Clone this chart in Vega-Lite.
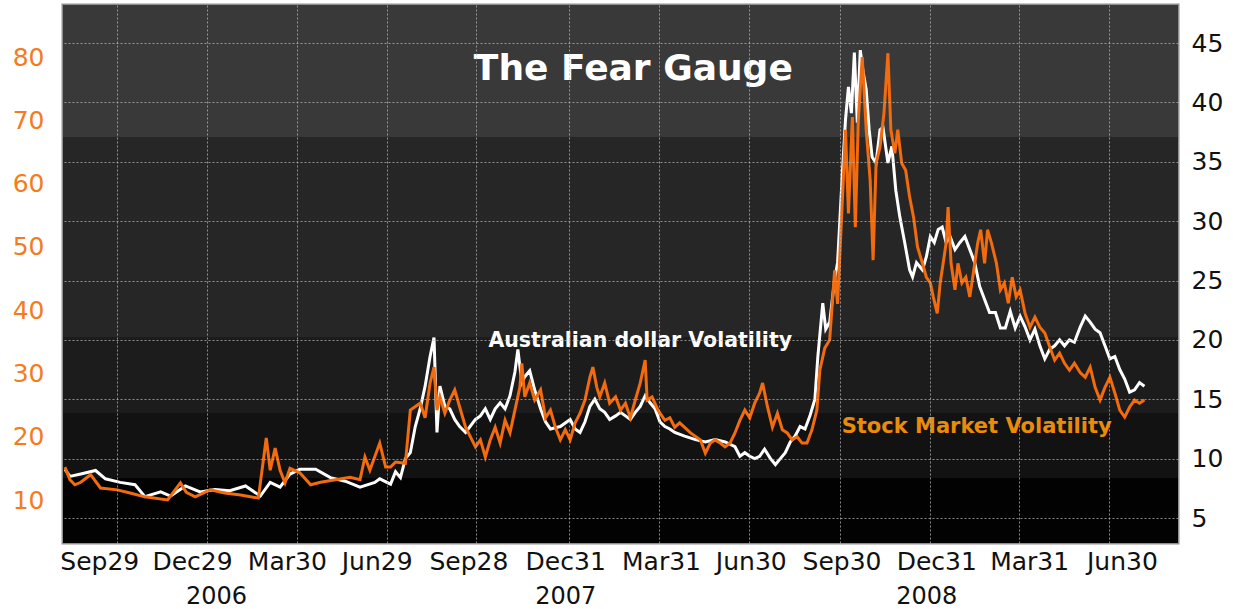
{
  "$schema": "https://vega.github.io/schema/vega-lite/v6.json",
  "width": 1115,
  "height": 538,
  "autosize": {"type": "none"},
  "padding": {"left": 63, "top": 5, "right": 59, "bottom": 66},
  "background": "white",
  "config": {
    "view": {"stroke": "#8f8f8f", "strokeWidth": 3},
    "axis": {"labelFont": "DejaVu Sans", "domain": false, "ticks": false, "title": null}
  },
  "datasets": {
    "bands": [
      {"lo": 37.08, "hi": 48.2, "band": "b1"},
      {"lo": 20.24, "hi": 37.08, "band": "b2"},
      {"lo": 13.84, "hi": 20.24, "band": "b3"},
      {"lo": 8.37, "hi": 13.84, "band": "b4"},
      {"lo": 2.895, "hi": 8.37, "band": "b5"}
    ],
    "aud": [
      {"date": "2006-08-07", "v": 9.1}, {"date": "2006-08-12", "v": 8.5}, {"date": "2006-08-23", "v": 8.7},
      {"date": "2006-09-07", "v": 9.0}, {"date": "2006-09-17", "v": 8.3}, {"date": "2006-10-02", "v": 8.0},
      {"date": "2006-10-17", "v": 7.8}, {"date": "2006-10-27", "v": 6.8}, {"date": "2006-11-12", "v": 7.2},
      {"date": "2006-11-22", "v": 6.85}, {"date": "2006-12-07", "v": 7.7}, {"date": "2006-12-22", "v": 7.2},
      {"date": "2007-01-06", "v": 7.4}, {"date": "2007-01-21", "v": 7.3}, {"date": "2007-02-06", "v": 7.7},
      {"date": "2007-02-21", "v": 6.85}, {"date": "2007-03-03", "v": 8.0}, {"date": "2007-03-13", "v": 7.6},
      {"date": "2007-03-23", "v": 8.7}, {"date": "2007-04-02", "v": 9.1}, {"date": "2007-04-18", "v": 9.1},
      {"date": "2007-05-03", "v": 8.4}, {"date": "2007-05-18", "v": 8.1}, {"date": "2007-06-02", "v": 7.6},
      {"date": "2007-06-17", "v": 8.0}, {"date": "2007-06-22", "v": 8.3}, {"date": "2007-07-03", "v": 7.85},
      {"date": "2007-07-08", "v": 8.9}, {"date": "2007-07-13", "v": 8.4}, {"date": "2007-07-18", "v": 10.0},
      {"date": "2007-07-23", "v": 10.5}, {"date": "2007-07-28", "v": 12.7}, {"date": "2007-08-02", "v": 14.2},
      {"date": "2007-08-07", "v": 16.1}, {"date": "2007-08-12", "v": 18.6}, {"date": "2007-08-16", "v": 20.2},
      {"date": "2007-08-19", "v": 12.2}, {"date": "2007-08-22", "v": 16.1}, {"date": "2007-08-27", "v": 14.4},
      {"date": "2007-09-01", "v": 14.2}, {"date": "2007-09-06", "v": 13.3}, {"date": "2007-09-11", "v": 12.7},
      {"date": "2007-09-17", "v": 12.2}, {"date": "2007-09-27", "v": 13.3}, {"date": "2007-10-02", "v": 13.6},
      {"date": "2007-10-07", "v": 14.2}, {"date": "2007-10-12", "v": 13.3}, {"date": "2007-10-17", "v": 14.2},
      {"date": "2007-10-22", "v": 14.7}, {"date": "2007-10-27", "v": 14.2}, {"date": "2007-11-01", "v": 15.3},
      {"date": "2007-11-06", "v": 17.3}, {"date": "2007-11-09", "v": 19.2}, {"date": "2007-11-13", "v": 16.4},
      {"date": "2007-11-16", "v": 16.9}, {"date": "2007-11-21", "v": 17.4}, {"date": "2007-11-26", "v": 15.8},
      {"date": "2007-12-02", "v": 14.2}, {"date": "2007-12-07", "v": 13.1}, {"date": "2007-12-12", "v": 12.5},
      {"date": "2007-12-22", "v": 12.7}, {"date": "2008-01-01", "v": 13.3}, {"date": "2008-01-06", "v": 12.5},
      {"date": "2008-01-11", "v": 12.2}, {"date": "2008-01-16", "v": 13.1}, {"date": "2008-01-21", "v": 14.4},
      {"date": "2008-01-26", "v": 15.0}, {"date": "2008-01-31", "v": 14.2}, {"date": "2008-02-05", "v": 13.9},
      {"date": "2008-02-10", "v": 13.3}, {"date": "2008-02-16", "v": 13.6}, {"date": "2008-02-21", "v": 13.9},
      {"date": "2008-02-26", "v": 13.6}, {"date": "2008-03-02", "v": 13.3}, {"date": "2008-03-07", "v": 13.9},
      {"date": "2008-03-12", "v": 14.4}, {"date": "2008-03-17", "v": 15.3}, {"date": "2008-03-22", "v": 14.7},
      {"date": "2008-03-27", "v": 14.2}, {"date": "2008-04-01", "v": 13.1}, {"date": "2008-04-06", "v": 12.7},
      {"date": "2008-04-11", "v": 12.5}, {"date": "2008-04-16", "v": 12.2}, {"date": "2008-04-26", "v": 11.9},
      {"date": "2008-05-07", "v": 11.6}, {"date": "2008-05-17", "v": 11.4}, {"date": "2008-05-27", "v": 11.6},
      {"date": "2008-06-06", "v": 11.4}, {"date": "2008-06-16", "v": 11.0}, {"date": "2008-06-21", "v": 10.2},
      {"date": "2008-06-26", "v": 10.5}, {"date": "2008-07-01", "v": 10.2}, {"date": "2008-07-06", "v": 10.0},
      {"date": "2008-07-11", "v": 10.2}, {"date": "2008-07-16", "v": 10.8}, {"date": "2008-07-22", "v": 10.0},
      {"date": "2008-07-27", "v": 9.5}, {"date": "2008-08-01", "v": 10.0}, {"date": "2008-08-06", "v": 10.5},
      {"date": "2008-08-11", "v": 11.4}, {"date": "2008-08-16", "v": 11.9}, {"date": "2008-08-21", "v": 12.7},
      {"date": "2008-08-26", "v": 12.5}, {"date": "2008-08-31", "v": 13.6}, {"date": "2008-09-05", "v": 15.0},
      {"date": "2008-09-08", "v": 18.6}, {"date": "2008-09-13", "v": 23.1}, {"date": "2008-09-16", "v": 20.9},
      {"date": "2008-09-20", "v": 21.5}, {"date": "2008-09-25", "v": 25.1}, {"date": "2008-09-28", "v": 26.5},
      {"date": "2008-10-03", "v": 34.3}, {"date": "2008-10-06", "v": 38.5}, {"date": "2008-10-09", "v": 41.3},
      {"date": "2008-10-12", "v": 39.1}, {"date": "2008-10-15", "v": 44.2}, {"date": "2008-10-18", "v": 38.3},
      {"date": "2008-10-21", "v": 44.4}, {"date": "2008-10-24", "v": 42.5}, {"date": "2008-10-27", "v": 41.1},
      {"date": "2008-10-30", "v": 37.7}, {"date": "2008-11-02", "v": 35.4}, {"date": "2008-11-06", "v": 34.9},
      {"date": "2008-11-10", "v": 37.7}, {"date": "2008-11-13", "v": 37.9}, {"date": "2008-11-18", "v": 34.9},
      {"date": "2008-11-22", "v": 36.3}, {"date": "2008-11-26", "v": 32.6}, {"date": "2008-11-30", "v": 30.4},
      {"date": "2008-12-05", "v": 28.2}, {"date": "2008-12-10", "v": 25.9}, {"date": "2008-12-13", "v": 25.3},
      {"date": "2008-12-17", "v": 26.5}, {"date": "2008-12-23", "v": 25.9}, {"date": "2008-12-27", "v": 27.0},
      {"date": "2008-12-31", "v": 28.7}, {"date": "2009-01-04", "v": 28.2}, {"date": "2009-01-08", "v": 29.3},
      {"date": "2009-01-12", "v": 29.5}, {"date": "2009-01-16", "v": 28.2}, {"date": "2009-01-20", "v": 28.7},
      {"date": "2009-01-25", "v": 27.6}, {"date": "2009-01-30", "v": 28.2}, {"date": "2009-02-04", "v": 28.7},
      {"date": "2009-02-09", "v": 27.6}, {"date": "2009-02-14", "v": 26.5}, {"date": "2009-02-19", "v": 24.5},
      {"date": "2009-02-24", "v": 23.4}, {"date": "2009-03-01", "v": 22.3}, {"date": "2009-03-07", "v": 22.3},
      {"date": "2009-03-12", "v": 21.0}, {"date": "2009-03-17", "v": 21.0}, {"date": "2009-03-22", "v": 22.4},
      {"date": "2009-03-27", "v": 21.0}, {"date": "2009-04-01", "v": 22.0}, {"date": "2009-04-06", "v": 21.1},
      {"date": "2009-04-11", "v": 20.0}, {"date": "2009-04-16", "v": 20.9}, {"date": "2009-04-21", "v": 19.5},
      {"date": "2009-04-26", "v": 18.4}, {"date": "2009-05-01", "v": 19.2}, {"date": "2009-05-06", "v": 19.5},
      {"date": "2009-05-11", "v": 20.0}, {"date": "2009-05-16", "v": 19.5}, {"date": "2009-05-21", "v": 20.0},
      {"date": "2009-05-26", "v": 19.8}, {"date": "2009-06-01", "v": 21.1}, {"date": "2009-06-06", "v": 22.0},
      {"date": "2009-06-11", "v": 21.5}, {"date": "2009-06-16", "v": 20.9}, {"date": "2009-06-21", "v": 20.6},
      {"date": "2009-06-26", "v": 19.5}, {"date": "2009-07-01", "v": 18.4}, {"date": "2009-07-06", "v": 18.6},
      {"date": "2009-07-11", "v": 17.5}, {"date": "2009-07-16", "v": 16.7}, {"date": "2009-07-21", "v": 15.6},
      {"date": "2009-07-26", "v": 15.8}, {"date": "2009-07-31", "v": 16.4}, {"date": "2009-08-05", "v": 16.1}
    ],
    "vix": [
      {"date": "2006-08-07", "v": 15.2}, {"date": "2006-08-12", "v": 13.2}, {"date": "2006-08-17", "v": 12.4},
      {"date": "2006-08-23", "v": 12.8}, {"date": "2006-09-02", "v": 14.0}, {"date": "2006-09-12", "v": 11.9},
      {"date": "2006-09-29", "v": 11.6}, {"date": "2006-10-12", "v": 11.1}, {"date": "2006-10-27", "v": 10.5},
      {"date": "2006-11-19", "v": 10.0}, {"date": "2006-12-02", "v": 12.7}, {"date": "2006-12-08", "v": 11.2},
      {"date": "2006-12-17", "v": 10.5}, {"date": "2007-01-01", "v": 11.6}, {"date": "2007-01-16", "v": 11.1},
      {"date": "2007-02-01", "v": 10.8}, {"date": "2007-02-19", "v": 10.3}, {"date": "2007-02-27", "v": 19.8},
      {"date": "2007-03-03", "v": 14.7}, {"date": "2007-03-08", "v": 18.2}, {"date": "2007-03-13", "v": 14.7},
      {"date": "2007-03-18", "v": 12.7}, {"date": "2007-03-23", "v": 15.0}, {"date": "2007-04-02", "v": 14.3},
      {"date": "2007-04-13", "v": 12.4}, {"date": "2007-04-23", "v": 12.8}, {"date": "2007-05-08", "v": 13.2},
      {"date": "2007-05-23", "v": 13.6}, {"date": "2007-06-02", "v": 13.2}, {"date": "2007-06-07", "v": 16.8},
      {"date": "2007-06-12", "v": 14.7}, {"date": "2007-06-22", "v": 19.0}, {"date": "2007-06-28", "v": 15.2},
      {"date": "2007-07-03", "v": 15.2}, {"date": "2007-07-08", "v": 16.0}, {"date": "2007-07-18", "v": 15.8},
      {"date": "2007-07-23", "v": 24.2}, {"date": "2007-08-02", "v": 25.3}, {"date": "2007-08-07", "v": 23.0},
      {"date": "2007-08-12", "v": 28.5}, {"date": "2007-08-16", "v": 31.0}, {"date": "2007-08-19", "v": 24.2},
      {"date": "2007-08-22", "v": 26.3}, {"date": "2007-08-27", "v": 23.7}, {"date": "2007-09-01", "v": 25.8},
      {"date": "2007-09-06", "v": 27.4}, {"date": "2007-09-11", "v": 24.7}, {"date": "2007-09-17", "v": 21.5},
      {"date": "2007-09-27", "v": 18.4}, {"date": "2007-10-02", "v": 19.5}, {"date": "2007-10-07", "v": 16.8},
      {"date": "2007-10-12", "v": 19.5}, {"date": "2007-10-17", "v": 21.5}, {"date": "2007-10-22", "v": 19.0},
      {"date": "2007-10-27", "v": 22.6}, {"date": "2007-11-01", "v": 20.6}, {"date": "2007-11-06", "v": 24.2},
      {"date": "2007-11-11", "v": 27.8}, {"date": "2007-11-13", "v": 31.6}, {"date": "2007-11-16", "v": 26.3},
      {"date": "2007-11-21", "v": 28.5}, {"date": "2007-11-26", "v": 25.8}, {"date": "2007-12-02", "v": 27.4},
      {"date": "2007-12-07", "v": 23.0}, {"date": "2007-12-12", "v": 24.2}, {"date": "2007-12-17", "v": 21.5},
      {"date": "2007-12-22", "v": 19.5}, {"date": "2007-12-27", "v": 21.1}, {"date": "2008-01-01", "v": 19.5},
      {"date": "2008-01-06", "v": 22.2}, {"date": "2008-01-11", "v": 23.7}, {"date": "2008-01-16", "v": 25.8},
      {"date": "2008-01-21", "v": 29.4}, {"date": "2008-01-24", "v": 31.0}, {"date": "2008-01-28", "v": 27.8},
      {"date": "2008-01-31", "v": 26.3}, {"date": "2008-02-05", "v": 28.5}, {"date": "2008-02-10", "v": 25.3},
      {"date": "2008-02-16", "v": 26.3}, {"date": "2008-02-21", "v": 24.2}, {"date": "2008-02-26", "v": 25.3},
      {"date": "2008-03-02", "v": 23.0}, {"date": "2008-03-07", "v": 25.8}, {"date": "2008-03-12", "v": 28.5},
      {"date": "2008-03-17", "v": 32.1}, {"date": "2008-03-19", "v": 25.8}, {"date": "2008-03-24", "v": 26.3},
      {"date": "2008-03-30", "v": 24.2}, {"date": "2008-04-06", "v": 22.6}, {"date": "2008-04-11", "v": 23.0},
      {"date": "2008-04-16", "v": 21.5}, {"date": "2008-04-21", "v": 22.2}, {"date": "2008-05-02", "v": 20.6},
      {"date": "2008-05-12", "v": 19.5}, {"date": "2008-05-17", "v": 17.4}, {"date": "2008-05-22", "v": 19.0},
      {"date": "2008-05-27", "v": 19.5}, {"date": "2008-06-01", "v": 19.0}, {"date": "2008-06-06", "v": 18.4},
      {"date": "2008-06-11", "v": 19.0}, {"date": "2008-06-16", "v": 20.6}, {"date": "2008-06-21", "v": 22.6},
      {"date": "2008-06-26", "v": 24.2}, {"date": "2008-07-01", "v": 23.0}, {"date": "2008-07-06", "v": 25.3},
      {"date": "2008-07-11", "v": 26.9}, {"date": "2008-07-14", "v": 28.5}, {"date": "2008-07-19", "v": 24.7},
      {"date": "2008-07-24", "v": 21.5}, {"date": "2008-07-29", "v": 23.7}, {"date": "2008-08-03", "v": 21.1},
      {"date": "2008-08-08", "v": 20.6}, {"date": "2008-08-13", "v": 19.5}, {"date": "2008-08-18", "v": 20.0},
      {"date": "2008-08-23", "v": 19.0}, {"date": "2008-08-28", "v": 19.0}, {"date": "2008-09-02", "v": 21.1},
      {"date": "2008-09-07", "v": 24.2}, {"date": "2008-09-10", "v": 30.5}, {"date": "2008-09-15", "v": 34.0},
      {"date": "2008-09-20", "v": 35.3}, {"date": "2008-09-25", "v": 46.3}, {"date": "2008-09-28", "v": 41.0},
      {"date": "2008-10-03", "v": 57.9}, {"date": "2008-10-06", "v": 68.5}, {"date": "2008-10-09", "v": 55.3},
      {"date": "2008-10-13", "v": 70.5}, {"date": "2008-10-16", "v": 53.1}, {"date": "2008-10-19", "v": 70.0},
      {"date": "2008-10-23", "v": 80.0}, {"date": "2008-10-27", "v": 68.5}, {"date": "2008-10-31", "v": 60.6},
      {"date": "2008-11-03", "v": 47.9}, {"date": "2008-11-06", "v": 63.2}, {"date": "2008-11-10", "v": 65.8},
      {"date": "2008-11-14", "v": 71.1}, {"date": "2008-11-18", "v": 80.6}, {"date": "2008-11-21", "v": 68.5},
      {"date": "2008-11-25", "v": 64.8}, {"date": "2008-11-28", "v": 68.5}, {"date": "2008-12-02", "v": 63.2},
      {"date": "2008-12-06", "v": 62.1}, {"date": "2008-12-10", "v": 57.9}, {"date": "2008-12-14", "v": 54.7},
      {"date": "2008-12-18", "v": 50.0}, {"date": "2008-12-23", "v": 47.4}, {"date": "2008-12-27", "v": 45.2},
      {"date": "2008-12-31", "v": 44.3}, {"date": "2009-01-03", "v": 42.1}, {"date": "2009-01-07", "v": 39.5},
      {"date": "2009-01-10", "v": 44.3}, {"date": "2009-01-13", "v": 47.4}, {"date": "2009-01-16", "v": 50.6},
      {"date": "2009-01-18", "v": 56.3}, {"date": "2009-01-21", "v": 47.4}, {"date": "2009-01-25", "v": 43.2},
      {"date": "2009-01-28", "v": 47.4}, {"date": "2009-02-01", "v": 44.3}, {"date": "2009-02-05", "v": 45.2},
      {"date": "2009-02-09", "v": 42.1}, {"date": "2009-02-13", "v": 46.3}, {"date": "2009-02-17", "v": 50.6},
      {"date": "2009-02-20", "v": 52.7}, {"date": "2009-02-24", "v": 47.4}, {"date": "2009-02-27", "v": 52.7},
      {"date": "2009-03-03", "v": 50.6}, {"date": "2009-03-08", "v": 47.4}, {"date": "2009-03-12", "v": 43.2},
      {"date": "2009-03-16", "v": 44.3}, {"date": "2009-03-20", "v": 41.1}, {"date": "2009-03-24", "v": 45.2},
      {"date": "2009-03-28", "v": 42.1}, {"date": "2009-04-01", "v": 43.2}, {"date": "2009-04-06", "v": 39.5},
      {"date": "2009-04-11", "v": 37.3}, {"date": "2009-04-16", "v": 38.9}, {"date": "2009-04-21", "v": 37.3},
      {"date": "2009-04-26", "v": 36.4}, {"date": "2009-05-01", "v": 34.2}, {"date": "2009-05-06", "v": 32.1},
      {"date": "2009-05-11", "v": 33.2}, {"date": "2009-05-16", "v": 31.6}, {"date": "2009-05-21", "v": 30.5},
      {"date": "2009-05-26", "v": 31.6}, {"date": "2009-06-01", "v": 30.1}, {"date": "2009-06-06", "v": 29.4},
      {"date": "2009-06-11", "v": 31.0}, {"date": "2009-06-16", "v": 27.8}, {"date": "2009-06-21", "v": 25.8},
      {"date": "2009-06-26", "v": 27.8}, {"date": "2009-07-01", "v": 29.4}, {"date": "2009-07-06", "v": 26.9},
      {"date": "2009-07-11", "v": 24.2}, {"date": "2009-07-16", "v": 23.1}, {"date": "2009-07-21", "v": 24.7},
      {"date": "2009-07-26", "v": 25.8}, {"date": "2009-07-31", "v": 25.3}, {"date": "2009-08-05", "v": 25.8}
    ]
  },
  "layer": [
    {
      "data": {"name": "bands"},
      "mark": {"type": "rect"},
      "encoding": {
        "y": {"field": "lo", "type": "quantitative", "scale": {"domain": [2.895, 48.2], "nice": false, "zero": false},
              "axis": {"orient": "right", "values": [5, 10, 15, 20, 25, 30, 35, 40, 45], "labelFontSize": 25, "labelColor": "#111111", "labelPadding": 13,
                       "grid": true, "gridColor": "#b5b5b5", "gridDash": [2, 2], "gridOpacity": 0.75, "gridWidth": 1, "zindex": 1}},
        "y2": {"field": "hi"},
        "color": {"field": "band", "type": "nominal", "legend": null,
                  "scale": {"domain": ["b1", "b2", "b3", "b4", "b5"], "range": ["#393939", "#262626", "#1c1c1c", "#121212", "#020202"]}}
      }
    },
    {
      "data": {"name": "aud"},
      "mark": {"type": "line", "color": "#ffffff", "strokeWidth": 3, "strokeJoin": "miter"},
      "encoding": {
        "x": {"field": "date", "type": "temporal",
              "scale": {"type": "utc", "domain": [{"year": 2006, "month": 8, "date": 5, "utc": true}, {"year": 2009, "month": 9, "date": 8, "utc": true}]},
              "axis": {
                "orient": "bottom",
                "values": [
                  {"year": 2006, "month": 9, "date": 29, "utc": true}, {"year": 2006, "month": 12, "date": 29, "utc": true},
                  {"year": 2007, "month": 3, "date": 30, "utc": true}, {"year": 2007, "month": 6, "date": 29, "utc": true},
                  {"year": 2007, "month": 9, "date": 28, "utc": true}, {"year": 2007, "month": 12, "date": 31, "utc": true},
                  {"year": 2008, "month": 3, "date": 31, "utc": true}, {"year": 2008, "month": 6, "date": 30, "utc": true},
                  {"year": 2008, "month": 9, "date": 30, "utc": true}, {"year": 2008, "month": 12, "date": 31, "utc": true},
                  {"year": 2009, "month": 3, "date": 31, "utc": true}, {"year": 2009, "month": 6, "date": 30, "utc": true}
                ],
                "labelExpr": "utcFormat(datum.value, '%b%d')",
                "labelFontSize": 25, "labelColor": "#111111", "labelPadding": 6,
                "labelOffset": {
                  "condition": [
                    {"test": "datum.value < utc(2006,10,1)", "value": -18},
                    {"test": "datum.value < utc(2007,1,1)", "value": -15},
                    {"test": "datum.value < utc(2007,7,1)", "value": -10},
                    {"test": "datum.value < utc(2007,10,1)", "value": -8},
                    {"test": "datum.value < utc(2008,1,1)", "value": -4},
                    {"test": "datum.value < utc(2008,10,1)", "value": 2},
                    {"test": "datum.value < utc(2009,1,1)", "value": 6},
                    {"test": "datum.value < utc(2009,4,1)", "value": 10}
                  ],
                  "value": 13
                },
                "labelBaseline": "top", "labelFlush": false, "labelOverlap": false,
                "grid": true, "gridColor": "#b5b5b5", "gridDash": [2, 2], "gridOpacity": 0.75, "gridWidth": 1, "zindex": 1
              }},
        "y": {"field": "v", "type": "quantitative", "scale": {"domain": [2.895, 48.2], "nice": false, "zero": false}, "axis": null}
      }
    },
    {
      "data": {"values": [{}]},
      "mark": {"type": "text", "text": "The Fear Gauge", "font": "DejaVu Sans", "fontWeight": "bold", "fontSize": 36, "color": "#ffffff", "align": "center", "baseline": "alphabetic"},
      "encoding": {
        "x": {"datum": {"year": 2008, "month": 3, "date": 5, "utc": true}, "type": "temporal", "axis": null},
        "y": {"datum": 41.88, "type": "quantitative", "scale": {"domain": [2.895, 48.2], "nice": false, "zero": false}, "axis": null}
      }
    },
    {
      "data": {"values": [{}]},
      "mark": {"type": "text", "text": "Australian dollar Volatility", "font": "DejaVu Sans", "fontWeight": "bold", "fontSize": 20.5, "color": "#ffffff", "align": "center", "baseline": "alphabetic"},
      "encoding": {
        "x": {"datum": {"year": 2008, "month": 3, "date": 12, "utc": true}, "type": "temporal", "axis": null},
        "y": {"datum": 19.4, "type": "quantitative", "scale": {"domain": [2.895, 48.2], "nice": false, "zero": false}, "axis": null}
      }
    },
    {
      "data": {"values": [{}]},
      "mark": {"type": "text", "text": "Stock Market Volatility", "font": "DejaVu Sans", "fontWeight": "bold", "fontSize": 21, "color": "#ea8c0a", "align": "center", "baseline": "alphabetic"},
      "encoding": {
        "x": {"datum": {"year": 2009, "month": 2, "date": 16, "utc": true}, "type": "temporal", "axis": null},
        "y": {"datum": 12.16, "type": "quantitative", "scale": {"domain": [2.895, 48.2], "nice": false, "zero": false}, "axis": null}
      }
    },
    {
      "data": {"name": "vix"},
      "mark": {"type": "line", "color": "#f26b0f", "strokeWidth": 3, "strokeJoin": "miter"},
      "encoding": {
        "x": {"field": "date", "type": "temporal",
              "axis": {
                "orient": "bottom",
                "values": [
                  {"year": 2006, "month": 12, "date": 29, "utc": true},
                  {"year": 2007, "month": 12, "date": 31, "utc": true},
                  {"year": 2008, "month": 12, "date": 31, "utc": true}
                ],
                "labelExpr": "utcFormat(datum.value, '%Y')",
                "labelFontSize": 24, "labelColor": "#111111", "labelPadding": 7, "offset": 34,
                "labelOffset": {"condition": {"test": "datum.value < utc(2007,6,1)", "value": 9}, "value": -4},
                "labelBaseline": "top", "labelFlush": false, "labelOverlap": false,
                "grid": false
              }},
        "y": {"field": "v", "type": "quantitative", "scale": {"domain": [3.206, 88.22], "nice": false, "zero": false},
              "axis": {"orient": "left", "values": [10, 20, 30, 40, 50, 60, 70, 80], "labelFontSize": 25, "labelColor": "#f47b20", "labelPadding": 19, "grid": false}}
      }
    }
  ],
  "resolve": {"scale": {"y": "independent"}, "axis": {"x": "independent", "y": "independent"}}
}
